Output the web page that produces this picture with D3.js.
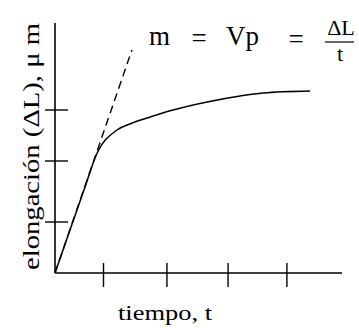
<!DOCTYPE html>
<html>
<head>
<meta charset="utf-8">
<script src="https://cdn.jsdelivr.net/npm/d3@7"></script>
<style>
  html, body { margin: 0; padding: 0; background: #fff; }
  svg { display: block; }
  text { font-family: "Liberation Serif", "DejaVu Serif", serif; fill: #000; }
</style>
</head>
<body>
<svg></svg>
<script>
const width = 359;
const height = 330;

// curve (t and elongation in 0-100 units)
const timeValues = [0, 10.45, 14.5, 21.6, 26.1, 32.1, 41.1, 53, 64.5, 72.5, 88.9];
const elongValues = [0, 34.4, 47.5, 57.2, 59.6, 62, 65.2, 68.4, 70.8, 72, 72.8];

// tangent line at the origin (slope m)
const tangentTime = [0, 26.8];
const tangentElong = [0, 89.2];

// tick marks (hand placed in the original)
const xTicks = [16.9, 39, 60.3, 80.8];
const yTicks = [20.4, 44.8, 65.2];

const xLabel = "tiempo, t";
const yLabel = "elongación (ΔL), μ m";

let svg = d3.select("svg").attr("width", width).attr("height", height);

const x = d3.scaleLinear().domain([0, 100]).range([55, 342]);
const y = d3.scaleLinear().domain([0, 100]).range([273, 23]);

// axes
svg.append("line")
  .attr("x1", x(0)).attr("x2", x(0))
  .attr("y1", y(0)).attr("y2", y(100))
  .attr("stroke", "#000").attr("stroke-width", 1.6);

svg.append("line")
  .attr("x1", x(0)).attr("x2", x(100))
  .attr("y1", y(0)).attr("y2", y(0))
  .attr("stroke", "#000").attr("stroke-width", 1.6);

svg.append("g")
  .selectAll("line")
  .data(xTicks)
  .enter()
  .append("line")
  .attr("x1", (d) => x(d)).attr("x2", (d) => x(d))
  .attr("y1", y(0) - 10).attr("y2", y(0) + 14)
  .attr("stroke", "#000").attr("stroke-width", 1.4);

svg.append("g")
  .selectAll("line")
  .data(yTicks)
  .enter()
  .append("line")
  .attr("x1", x(0) - 10).attr("x2", x(0) + 13)
  .attr("y1", (d) => y(d)).attr("y2", (d) => y(d))
  .attr("stroke", "#000").attr("stroke-width", 1.4);

// elongation curve
const curvePoints = timeValues.map((t, i) => [t, elongValues[i]]);
const line = d3.line()
  .x((d) => x(d[0]))
  .y((d) => y(d[1]))
  .curve(d3.curveMonotoneX);

svg.append("path")
  .datum(curvePoints)
  .attr("d", line)
  .attr("fill", "none")
  .attr("stroke", "#000")
  .attr("stroke-width", 1.5);

// dashed tangent
svg.append("path")
  .datum(tangentTime.map((t, i) => [t, tangentElong[i]]))
  .attr("d", d3.line().x((d) => x(d[0])).y((d) => y(d[1])))
  .attr("fill", "none")
  .attr("stroke", "#000")
  .attr("stroke-width", 1.4)
  .attr("stroke-dasharray", "8,5");

// labels
svg.append("text")
  .attr("x", 118).attr("y", 320)
  .attr("font-size", 22)
  .attr("textLength", 94)
  .attr("lengthAdjust", "spacingAndGlyphs")
  .text(xLabel);

svg.append("text")
  .attr("transform", "translate(39, 270) rotate(-90)")
  .attr("font-size", 23)
  .attr("textLength", 247)
  .attr("lengthAdjust", "spacingAndGlyphs")
  .text(yLabel);

// formula m = Vp = ΔL / t
const formula = svg.append("g").attr("font-size", 27);
formula.append("text").attr("x", 149).attr("y", 45).text("m");
formula.append("text").attr("x", 199).attr("y", 47)
  .attr("text-anchor", "middle").text("=");
formula.append("text").attr("x", 226).attr("y", 45).text("Vp");
formula.append("text").attr("x", 296).attr("y", 48)
  .attr("text-anchor", "middle").text("=");
formula.append("text").attr("x", 341).attr("y", 35)
  .attr("font-size", 22).attr("text-anchor", "middle").text("ΔL");
formula.append("line")
  .attr("x1", 325).attr("x2", 354).attr("y1", 42).attr("y2", 42)
  .attr("stroke", "#000").attr("stroke-width", 1.2);
formula.append("text").attr("x", 340).attr("y", 61)
  .attr("font-size", 22).attr("text-anchor", "middle").text("t");
</script>
</body>
</html>
